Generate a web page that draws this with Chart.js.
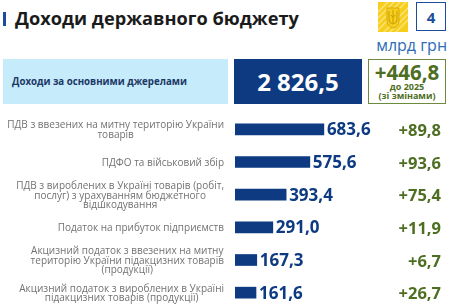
<!DOCTYPE html>
<html>
<head>
<meta charset="utf-8">
<script src="https://cdn.jsdelivr.net/npm/chart.js@4.4.0/dist/chart.umd.min.js"></script>
<style>
html, body { margin: 0; padding: 0; width: 449px; height: 306px; overflow: hidden; background: #fff; font-family: 'Open Sans', sans-serif; }
.abs { position: absolute; }
#mark { left: 3px; top: 12px; width: 3px; height: 14px; background: #1d4c9c; }
#title { left: 15px; top: 9px; font-size: 18.2px; line-height: 18px; font-weight: 700; color: #1b1b1b; white-space: nowrap; }
#emblem { left: 378px; top: 2px; width: 30px; height: 30px; }
#box4 { left: 416px; top: 2px; width: 28px; height: 27px; border: 1.5px solid #1d4c9c; color: #1d4c9c; font-weight: 700; font-size: 15px; display: flex; align-items: center; justify-content: center; }
#unit { right: 2px; top: 36px; font-size: 16px; line-height: 18px; color: #2d6bb5; white-space: nowrap; }
#lightbox { left: 3px; top: 59px; width: 225px; height: 45px; background: #c6ebfb; color: #1b3764; font-weight: 700; font-size: 9.7px; display: flex; align-items: center; padding-left: 9px; box-sizing: border-box; }
#darkbox { left: 234px; top: 59px; width: 128px; height: 45px; background: #0d3a80; color: #fff; font-weight: 700; font-size: 24px; display: flex; align-items: center; justify-content: center; }
#greenbox { left: 368px; top: 59px; width: 78px; height: 45px; border: 1.5px solid #6e8b3d; box-sizing: border-box; color: #4e6e22; font-weight: 700; text-align: center; }
#greenbox .big { font-size: 20.5px; line-height: 20px; margin-top: 2px; }
#greenbox .small { font-size: 9px; line-height: 9px; }
#chartWrap { left: 0; top: 112px; }
</style>
</head>
<body>
<div id="mark" class="abs"></div>
<div id="title" class="abs">Доходи державного бюджету</div>
<svg id="emblem" class="abs" viewBox="0 0 30 30">
  <rect x="0" y="0" width="30" height="30" fill="#f6cf1c"/>
  <g stroke="#fbe27a" stroke-width="1.4">
    <line x1="-2" y1="12" x2="12" y2="-2"/>
    <line x1="-2" y1="18" x2="18" y2="-2"/>
    <line x1="-2" y1="24" x2="24" y2="-2"/>
    <line x1="-2" y1="30" x2="30" y2="-2"/>
    <line x1="4" y1="32" x2="32" y2="4"/>
    <line x1="10" y1="32" x2="32" y2="10"/>
    <line x1="16" y1="32" x2="32" y2="16"/>
  </g>
  <path d="M9 6 H21 V19 Q21 24 15 26 Q9 24 9 19 Z" fill="#f6cf1c" stroke="#d9a90f" stroke-width="1"/>
  <path d="M11 9 V18 Q11 21 15 22 Q19 21 19 18 V9 M15 8 V21 M13 13 Q15 17 17 13" fill="none" stroke="#c99a0a" stroke-width="1"/>
</svg>
<div id="box4" class="abs">4</div>
<div id="unit" class="abs">млрд грн</div>
<div id="lightbox" class="abs">Доходи за основними джерелами</div>
<div id="darkbox" class="abs"></div>
<div id="greenbox" class="abs">
  <div class="big" id="totalChange"></div>
  <div class="small">до 2025</div>
  <div class="small">(зі змінами)</div>
</div>
<div id="chartWrap" class="abs"><canvas id="chart" width="449" height="200"></canvas></div>

<script>
// дані
var totalIncome = 2826.5;
var totalChange = 446.8;

var categories = [
    ['ПДВ з ввезених на митну територію України', 'товарів'],
    ['ПДФО та військовий збір'],
    ['ПДВ з вироблених в Україні товарів (робіт,', 'послуг) з урахуванням бюджетного', 'відшкодування'],
    ['Податок на прибуток підприємств'],
    ['Акцизний податок з ввезених на митну', 'територію України підакцизних товарів', '(продукції)'],
    ['Акцизний податок з вироблених в Україні', 'підакцизних товарів (продукції)']
];
var values = [683.6, 575.6, 393.4, 291.0, 167.3, 161.6];
var changes = [89.8, 93.6, 75.4, 11.9, 6.7, 26.7];

function fmt(v) {
    var parts = v.toFixed(1).split('.');
    parts[0] = parts[0].replace(/\B(?=(\d{3})+(?!\d))/g, ' ');
    return parts.join(',');
}

document.getElementById('darkbox').textContent = fmt(totalIncome);
document.getElementById('totalChange').textContent = '+' + fmt(totalChange);

// підписи категорій, значень і змін
var labelsPlugin = {
    id: 'labelsPlugin',
    afterDatasetsDraw: function (chart) {
        var ctx = chart.ctx;
        var yScale = chart.scales.y;
        var meta = chart.getDatasetMeta(0);
        ctx.save();
        ctx.textBaseline = 'middle';

        // категорії
        ctx.font = '10px "Open Sans"';
        ctx.fillStyle = '#727272';
        ctx.textAlign = 'center';
        categories.forEach(function (lines, i) {
            var yc = yScale.getPixelForTick(i) + 1;
            var w = Math.max.apply(null, lines.map(function (l) { return ctx.measureText(l).width; }));
            var cx = yScale.right - 11 - w / 2;
            lines.forEach(function (l, j) {
                ctx.fillText(l, cx, yc + (j - (lines.length - 1) / 2) * 9.5);
            });
        });

        // значення
        ctx.font = 'bold 17px "Open Sans"';
        ctx.fillStyle = '#0d3a80';
        ctx.textAlign = 'left';
        meta.data.forEach(function (bar, i) {
            ctx.fillText(fmt(values[i]), bar.x + 3, bar.y + 1);
        });

        // зміни
        ctx.font = 'bold 16.5px "Open Sans"';
        ctx.fillStyle = '#4e6e22';
        ctx.textAlign = 'right';
        meta.data.forEach(function (bar, i) {
            ctx.fillText('+' + fmt(changes[i]), chart.width - 8, bar.y + 2);
        });
        ctx.restore();
    }
};

var ctx = document.getElementById('chart').getContext('2d');
var myChart = new Chart(ctx, {
    type: 'bar',
    data: {
        labels: categories,
        datasets: [{
            data: values,
            backgroundColor: '#0d3a80',
            borderWidth: 0,
            barThickness: 11
        }]
    },
    options: {
        indexAxis: 'y',
        responsive: false,
        animation: false,
        layout: { padding: { top: 1, bottom: 3, left: 0, right: 0 } },
        plugins: { legend: { display: false }, tooltip: { enabled: false } },
        scales: {
            x: { display: false, min: 0, max: 1646 },
            y: {
                grid: { display: false },
                border: { display: false },
                ticks: { display: false },
                afterFit: function (scale) { scale.width = 235; }
            }
        }
    },
    plugins: [labelsPlugin]
});
</script>
</body>
</html>
